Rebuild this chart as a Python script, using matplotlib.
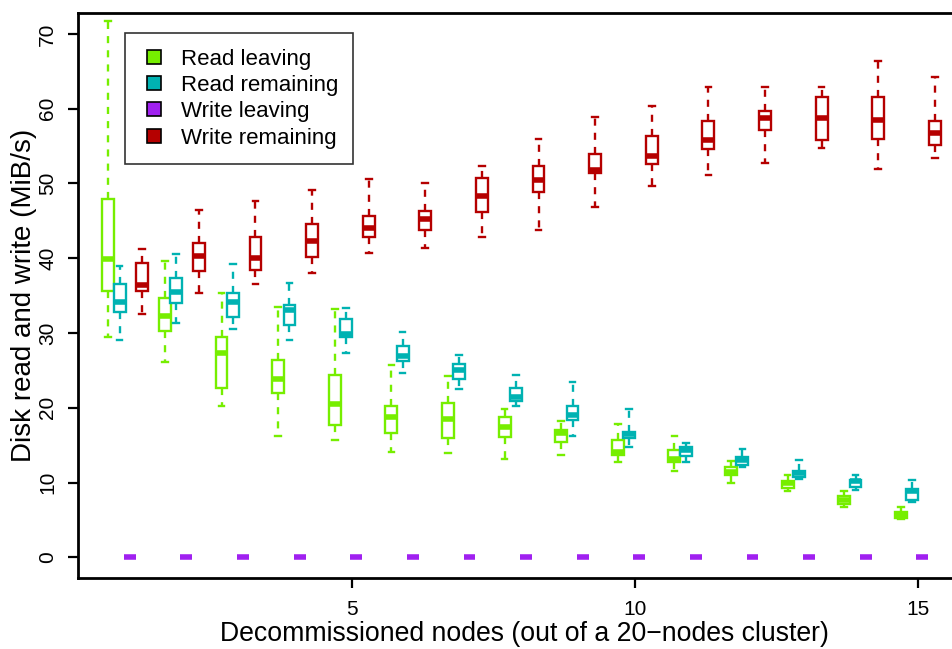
import numpy as np
import matplotlib
matplotlib.use('Agg')
import matplotlib.pyplot as plt
from matplotlib.lines import Line2D

plt.rcParams['font.family'] = ['Liberation Sans', 'DejaVu Sans']

nodes = np.arange(1, 16)

# read leaving
rl_lo = [29.4, 26.1, 20.3, 16.2, 15.7, 14.1, 14.0, 13.1, 13.7, 12.8, 11.6, 9.9, 8.9, 6.7, 5.1]
rl_q1 = [35.6, 30.3, 22.7, 22.0, 17.7, 16.6, 15.9, 16.1, 15.4, 13.7, 12.7, 11.0, 9.3, 7.1, 5.2]
rl_med = [39.9, 32.3, 27.3, 23.9, 20.5, 18.8, 18.5, 17.4, 16.6, 14.1, 13.1, 11.4, 9.9, 7.7, 5.6]
rl_q3 = [47.9, 34.7, 29.4, 26.4, 24.4, 20.3, 20.7, 18.7, 17.0, 15.7, 14.3, 12.1, 10.2, 8.2, 6.0]
rl_hi = [71.7, 39.6, 35.4, 33.5, 33.2, 25.7, 24.2, 19.9, 18.2, 17.8, 16.2, 12.9, 11.0, 8.9, 6.7]

# read remaining
rr_lo = [29.1, 31.3, 30.5, 29.0, 27.3, 24.7, 22.5, 20.3, 16.2, 14.8, 12.8, 12.1, 10.5, 9.0, 7.4]
rr_q1 = [32.8, 34.0, 32.2, 31.1, 29.4, 26.3, 23.8, 20.9, 18.4, 15.9, 13.5, 12.4, 10.7, 9.4, 7.7]
rr_med = [34.2, 35.5, 34.1, 33.1, 29.9, 26.9, 25.0, 21.5, 19.1, 16.5, 14.3, 13.0, 11.3, 10.2, 8.9]
rr_q3 = [36.5, 37.3, 35.4, 33.7, 31.9, 28.3, 25.9, 22.7, 20.2, 16.8, 14.7, 13.4, 11.6, 10.4, 9.1]
rr_hi = [39.0, 40.6, 39.2, 36.7, 33.4, 30.2, 27.0, 24.4, 23.5, 19.9, 15.3, 14.5, 13.0, 11.0, 10.4]

# write leaving (always zero)
wl_val = [0.0] * 15

# write remaining
wr_lo = [32.5, 35.3, 36.6, 38.0, 40.7, 41.4, 42.9, 43.8, 46.9, 49.7, 51.1, 52.8, 54.8, 51.9, 53.4]
wr_q1 = [35.6, 38.3, 38.4, 40.1, 42.9, 43.8, 46.2, 48.9, 51.4, 52.6, 54.6, 57.1, 55.8, 56.0, 55.2]
wr_med = [36.4, 40.3, 40.0, 42.3, 44.0, 45.3, 48.3, 50.4, 51.8, 53.7, 55.8, 58.7, 58.8, 58.5, 56.7]
wr_q3 = [39.4, 42.1, 42.8, 44.6, 45.6, 46.3, 50.7, 52.3, 53.9, 56.4, 58.3, 59.7, 61.6, 61.5, 58.3]
wr_hi = [41.2, 46.5, 47.7, 49.1, 50.6, 50.1, 52.4, 55.9, 58.9, 60.4, 62.9, 62.9, 62.9, 66.4, 64.2]

labels = ['Read leaving', 'Read remaining', 'Write leaving', 'Write remaining']
colors = ['#76EE00', '#00B2B2', '#A020F0', '#B50000']
offsets = [-0.3, -0.1, 0.08, 0.3]


def make_stats(lo, q1, med, q3, hi):
    return [dict(whislo=a, q1=b, med=c, q3=d, whishi=e)
            for a, b, c, d, e in zip(lo, q1, med, q3, hi)]


series = [
    make_stats(rl_lo, rl_q1, rl_med, rl_q3, rl_hi),
    make_stats(rr_lo, rr_q1, rr_med, rr_q3, rr_hi),
    make_stats(wl_val, wl_val, wl_val, wl_val, wl_val),
    make_stats(wr_lo, wr_q1, wr_med, wr_q3, wr_hi),
]

fig = plt.figure(figsize=(9.52, 6.49), dpi=100)
ax = fig.add_axes([0.082, 0.109, 0.938, 0.871])

for stats, col, off in zip(series, colors, offsets):
    ax.bxp(stats, positions=nodes + off, widths=0.21, capwidths=0.1,
           patch_artist=True, showfliers=False, manage_ticks=False,
           boxprops=dict(facecolor='white', edgecolor=col, linewidth=1.7),
           medianprops=dict(color=col, linewidth=4, solid_capstyle='butt'),
           whiskerprops=dict(color=col, linewidth=1.7, linestyle=(0, (3, 3))),
           capprops=dict(color=col, linewidth=1.7))

ax.set_xlim(0.166, 15.94)
ax.set_ylim(-2.8, 72.8)
ax.set_xticks([5, 10, 15])
ax.set_yticks(np.arange(0, 71, 10))
ax.tick_params(axis='both', direction='out', length=7, width=1.6, labelsize=15)
ax.tick_params(axis='y', labelrotation=90, pad=8)
for t in ax.get_yticklabels():
    t.set_va('center')
ax.tick_params(axis='x', pad=9)
ax.spines['right'].set_visible(False)
for s in ['top', 'left', 'bottom']:
    ax.spines[s].set_linewidth(2)

ax.set_xlabel('Decommissioned nodes (out of a 20\u2212nodes cluster)', fontsize=19.2, labelpad=1)
ax.set_ylabel('Disk read and write (MiB/s)', fontsize=20)
ax.yaxis.set_label_coords(-0.046, 0.5)

handles = [Line2D([], [], linestyle='none', marker='s', markersize=10,
                  markerfacecolor=c, markeredgecolor='black', markeredgewidth=1.2)
           for c in colors]
leg = ax.legend(handles, labels, loc='upper left', bbox_to_anchor=(125 / 952, 1 - 33 / 649),
                bbox_transform=fig.transFigure, fontsize=16, frameon=True, fancybox=False,
                edgecolor='black', borderpad=0.7, labelspacing=0.24, handletextpad=0.6,
                handlelength=1.2, borderaxespad=0)
leg.get_frame().set_linewidth(1.2)

fig.savefig('out.png', dpi=100)
plt.close()
